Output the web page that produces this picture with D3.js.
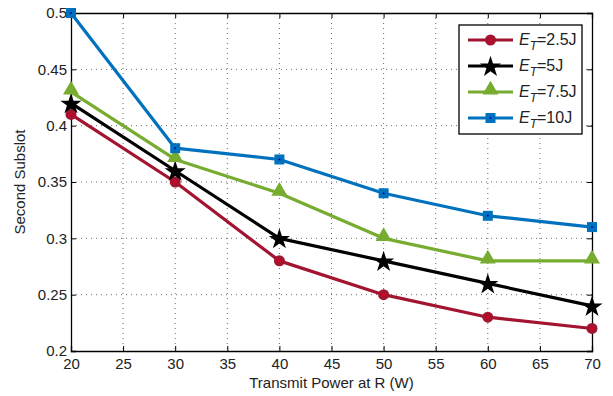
<!DOCTYPE html>
<html>
<head>
<meta charset="utf-8">
<script src="https://cdn.jsdelivr.net/npm/d3@7"></script>
<style>
  body { margin: 0; background: #fff; }
  svg { font-family: "Liberation Sans", Arial, sans-serif; }
</style>
</head>
<body>
<svg id="chart" width="613" height="396"></svg>
<script>
const powers = [20, 30, 40, 50, 60, 70];
const e25 = [0.41, 0.35, 0.28, 0.25, 0.23, 0.22];
const e5 = [0.42, 0.36, 0.30, 0.28, 0.26, 0.24];
const e75 = [0.43, 0.37, 0.34, 0.30, 0.28, 0.28];
const e10 = [0.50, 0.38, 0.37, 0.34, 0.32, 0.31];
const xTicks = [20, 25, 30, 35, 40, 45, 50, 55, 60, 65, 70];
const yTicks = [0.2, 0.25, 0.3, 0.35, 0.4, 0.45, 0.5];

const series = [
  { label: '=2.5J', values: e25, color: '#a2142f', marker: 'circle' },
  { label: '=5J', values: e5, color: '#000000', marker: 'star' },
  { label: '=7.5J', values: e75, color: '#77ac30', marker: 'triangle' },
  { label: '=10J', values: e10, color: '#0072bd', marker: 'square' }
];

const margin = { top: 13, right: 21, bottom: 45, left: 71 };
const W = 613, H = 396;
const w = W - margin.left - margin.right;
const h = H - margin.top - margin.bottom;

const svg = d3.select('#chart');
const g = svg.append('g').attr('transform', `translate(${margin.left},${margin.top})`);

const x = d3.scaleLinear().domain([20, 70]).range([0, w]);
const y = d3.scaleLinear().domain([0.2, 0.5]).range([h, 0]);

// grid
g.append('g').selectAll('line').data(xTicks.slice(1, -1)).join('line')
  .attr('x1', d => x(d)).attr('x2', d => x(d)).attr('y1', 0).attr('y2', h)
  .attr('stroke', '#444').attr('stroke-width', 0.8).attr('stroke-dasharray', '1,4');
g.append('g').selectAll('line').data(yTicks.slice(1, -1)).join('line')
  .attr('y1', d => y(d)).attr('y2', d => y(d)).attr('x1', 0).attr('x2', w)
  .attr('stroke', '#444').attr('stroke-width', 0.8).attr('stroke-dasharray', '1,4');

// axes
const xAxis = g.append('g').attr('transform', `translate(0,${h})`)
  .call(d3.axisBottom(x).tickValues(xTicks).tickSize(-5).tickPadding(10).tickFormat(d3.format('d')));
const yAxis = g.append('g')
  .call(d3.axisLeft(y).tickValues(yTicks).tickSize(-5).tickPadding(4).tickFormat(d => String(+d.toFixed(2))));
g.append('g').call(d3.axisTop(x).tickValues(xTicks).tickSize(-5).tickFormat(''));
g.append('g').attr('transform', `translate(${w},0)`)
  .call(d3.axisRight(y).tickValues(yTicks).tickSize(-5).tickFormat(''));
g.selectAll('.domain').attr('stroke', '#000').attr('stroke-width', 1.3);
g.selectAll('.tick line').attr('stroke', '#000');
g.selectAll('.tick text').attr('font-size', 15).attr('fill', '#222');
xAxis.selectAll('.tick text').attr('dy', '0.55em');

// lines
const line = d3.line().x((d, i) => x(powers[i])).y(d => y(d));
const starPath = d3.symbol().type(d3.symbolStar).size(140)();
const triPath = d3.symbol().type(d3.symbolTriangle).size(110)();

function drawMarker(sel, s, cx, cy) {
  const m = sel.append('g').attr('transform', `translate(${cx},${cy})`);
  if (s.marker === 'circle') {
    m.append('circle').attr('r', 5.5).attr('fill', s.color);
    m.append('circle').attr('r', 1.5).attr('fill', '#e00020');
  } else if (s.marker === 'star') {
    m.append('path').attr('d', starPath).attr('fill', s.color).attr('transform', 'translate(0,1)');
  } else if (s.marker === 'triangle') {
    m.append('path').attr('d', triPath).attr('fill', s.color).attr('transform', 'translate(0,-2)');
  } else {
    m.append('rect').attr('x', -5).attr('y', -5).attr('width', 10).attr('height', 10).attr('fill', s.color);
    m.append('circle').attr('r', 1).attr('fill', '#0000c0');
  }
}

series.forEach(s => {
  g.append('path').datum(s.values).attr('d', line)
    .attr('fill', 'none').attr('stroke', s.color).attr('stroke-width', 3.2)
    .attr('stroke-linejoin', 'round');
  s.values.forEach((v, i) => drawMarker(g, s, x(powers[i]), y(v)));
});

// labels
svg.append('text').attr('x', margin.left + w / 2).attr('y', 388)
  .attr('text-anchor', 'middle').attr('font-size', 15).attr('fill', '#222')
  .text('Transmit Power at R (W)');
svg.append('text').attr('transform', `translate(25,${margin.top + h / 2}) rotate(-90)`)
  .attr('text-anchor', 'middle').attr('font-size', 15).attr('fill', '#222')
  .text('Second Subslot');

// legend
const lg = svg.append('g');
lg.append('rect').attr('x', 459).attr('y', 25).attr('width', 123).attr('height', 109)
  .attr('fill', '#fff').attr('stroke', '#000').attr('stroke-width', 1.3);
series.forEach((s, i) => {
  const ly = 40 + i * 26;
  lg.append('line').attr('x1', 468).attr('x2', 513).attr('y1', ly).attr('y2', ly)
    .attr('stroke', s.color).attr('stroke-width', 3.2);
  drawMarker(lg, s, 490.5, ly);
  const t = lg.append('text').attr('x', 519).attr('y', ly + 5).attr('font-size', 16).attr('fill', '#222');
  t.append('tspan').attr('font-style', 'italic').text('E');
  t.append('tspan').attr('font-style', 'italic').attr('font-size', 12).attr('dy', 5).text('T');
  t.append('tspan').attr('dy', -5).text(s.label);
});
</script>
</body>
</html>
